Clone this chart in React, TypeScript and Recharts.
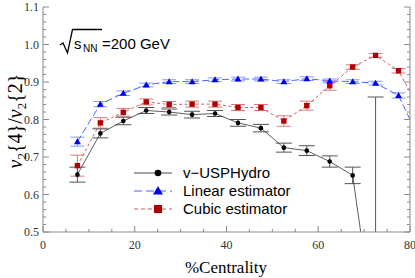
import React from "react";
import { ComposedChart, Line, XAxis, YAxis, ErrorBar } from "recharts";

// centrality bin centres (%)
const centrality = [7.5, 12.5, 17.5, 22.5, 27.5, 32.5, 37.5, 42.5, 47.5, 52.5, 57.5, 62.5, 67.5, 72.5, 77.5, 82.5];

const hydro = [0.653, 0.763, 0.796, 0.824, 0.82, 0.813, 0.816, 0.791, 0.777, 0.725, 0.717, 0.688, 0.651, 0.22];
const hydroErr = [0.02, 0.012, 0.01, 0.008, 0.008, 0.009, 0.008, 0.009, 0.01, 0.012, 0.013, 0.015, 0.022, 0.64];

const linear = [0.741, 0.841, 0.87, 0.892, 0.901, 0.901, 0.906, 0.908, 0.908, 0.901, 0.909, 0.903, 0.901, 0.897, 0.864, 0.736];
const linearErr = [0.012, 0.007, 0.006, 0.005, 0.005, 0.005, 0.005, 0.005, 0.005, 0.005, 0.005, 0.005, 0.005, 0.005, 0.007, 0.007];

const cubic = [0.677, 0.791, 0.819, 0.847, 0.84, 0.841, 0.841, 0.832, 0.832, 0.796, 0.837, 0.89, 0.94, 0.971, 0.93, 0.818];
const cubicErr = [0.028, 0.014, 0.01, 0.008, 0.008, 0.008, 0.008, 0.008, 0.008, 0.014, 0.012, 0.012, 0.006, 0.005, 0.006, 0.006];

const xMajor = [0, 20, 40, 60, 80];
const yMajor = [0.5, 0.6, 0.7, 0.8, 0.9, 1.0, 1.1];

const xTicks: number[] = [];
for (let v = 0; v <= 80; v += 5) xTicks.push(v);
const yTicks: number[] = [];
for (let i = 0; i <= 30; i++) yTicks.push(Math.round((0.5 + i * 0.02) * 100) / 100);

const isMajorY = (v: number) => yMajor.some((m) => Math.abs(m - v) < 1e-6);

const hydroData = hydro.map((v, i) => ({ c: centrality[i], v, e: hydroErr[i] }));
const linearData = linear.map((v, i) => ({ c: centrality[i], v, e: linearErr[i] }));
const cubicData = cubic.map((v, i) => ({ c: centrality[i], v, e: cubicErr[i] }));

const AXIS = "#8a8a8a";
const SERIF = "'Liberation Serif', 'Times New Roman', Times, 'DejaVu Serif', serif";
const SANS = "'Liberation Sans', Arial, Helvetica, sans-serif";
const tickStyle = { fontFamily: SERIF, fontSize: 12 };

function BottomTick(p: any) {
    const major = xMajor.includes(p.payload.value);
    return (
        <g>
            <line x1={p.x} x2={p.x} y1={p.y} y2={p.y - (major ? 6 : 3)} stroke={AXIS} />
            {major && <text x={p.x} y={p.y + 17} textAnchor="middle" fill="#333" style={tickStyle}>{p.payload.value}</text>}
        </g>
    );
}

function TopTick(p: any) {
    const major = xMajor.includes(p.payload.value);
    return <line x1={p.x} x2={p.x} y1={p.y} y2={p.y + (major ? 6 : 3)} stroke={AXIS} />;
}

function LeftTick(p: any) {
    const major = isMajorY(p.payload.value);
    return (
        <g>
            <line x1={p.x} x2={p.x + (major ? 6 : 3)} y1={p.y} y2={p.y} stroke={AXIS} />
            {major && <text x={p.x - 4} y={p.y + 4} textAnchor="end" fill="#333" style={tickStyle}>{p.payload.value.toFixed(1)}</text>}
        </g>
    );
}

function RightTick(p: any) {
    const major = isMajorY(p.payload.value);
    return <line x1={p.x} x2={p.x - (major ? 6 : 3)} y1={p.y} y2={p.y} stroke={AXIS} />;
}

function Circle(p: any) {
    if (p.cx == null || p.cy == null) return <g key={p.key} />;
    return <circle key={p.key} cx={p.cx} cy={p.cy} r={2.3} fill="#000" />;
}
function Triangle(p: any) {
    if (p.cx == null || p.cy == null) return <g key={p.key} />;
    const { cx, cy } = p;
    return <path key={p.key} d={`M${cx},${cy - 3.5} L${cx + 3.5},${cy + 2.6} L${cx - 3.5},${cy + 2.6} Z`} fill="#0000ee" />;
}
function Square(p: any) {
    if (p.cx == null || p.cy == null) return <g key={p.key} />;
    return <rect key={p.key} x={p.cx - 2.7} y={p.cy - 2.7} width={5.4} height={5.4} fill="#b00000" />;
}

const legendItems = [
    { name: "v\u2212USPHydro", color: "#333", dash: undefined, marker: "circle" },
    { name: "Linear estimator", color: "#3355ff", dash: "8 4", marker: "triangle" },
    { name: "Cubic estimator", color: "#d04a4a", dash: "4 3", marker: "square" },
];

function LegendBox() {
    return (
        <div style={{ position: "absolute", left: 134, top: 164, fontFamily: SANS, fontSize: 15, lineHeight: "18px" }}>
            {legendItems.map((it) => (
                <div key={it.name} style={{ display: "flex", alignItems: "center", height: 18 }}>
                    <svg width={49} height={18}>
                        <line x1={0} x2={38} y1={9} y2={9} stroke={it.color} strokeWidth={0.9} strokeDasharray={it.dash} />
                        {it.marker === "circle" && <circle cx={24} cy={9} r={3.3} fill="#000" />}
                        {it.marker === "triangle" && <path d="M24,4 L29,12.5 L19,12.5 Z" fill="#0000ee" />}
                        {it.marker === "square" && <rect x={20} y={5} width={8} height={8} fill="#b00000" />}
                    </svg>
                    <span style={{ color: "#000" }}>{it.name}</span>
                </div>
            ))}
        </div>
    );
}

export default function App() {
    return (
        <div style={{ position: "absolute", left: 0, top: 0, width: 415, height: 278, background: "#fff" }}>
            <svg width={0} height={0} style={{ position: "absolute" }}>
                <defs>
                    <clipPath id="plotClip" clipPathUnits="userSpaceOnUse">
                        <rect x={43} y={7} width={367} height={225} />
                    </clipPath>
                </defs>
            </svg>
            <ComposedChart width={415} height={278} margin={{ top: 7, right: 0, bottom: 0, left: 0 }}>
                <XAxis
                    xAxisId="b"
                    type="number"
                    dataKey="c"
                    domain={[0, 80]}
                    allowDataOverflow
                    ticks={xTicks}
                    interval={0}
                    height={46}
                    tickSize={0}
                    tickMargin={0}
                    tickLine={false}
                    axisLine={{ stroke: AXIS }}
                    tick={<BottomTick />}
                />
                <XAxis
                    xAxisId="t"
                    orientation="top"
                    type="number"
                    dataKey="c"
                    domain={[0, 80]}
                    allowDataOverflow
                    ticks={xTicks}
                    interval={0}
                    height={0}
                    tickSize={0}
                    tickMargin={0}
                    tickLine={false}
                    axisLine={{ stroke: AXIS }}
                    tick={<TopTick />}
                />
                <YAxis
                    yAxisId="l"
                    type="number"
                    domain={[0.5, 1.1]}
                    allowDataOverflow
                    ticks={yTicks}
                    interval={0}
                    width={43}
                    tickSize={0}
                    tickMargin={0}
                    tickLine={false}
                    axisLine={{ stroke: AXIS }}
                    tick={<LeftTick />}
                />
                <YAxis
                    yAxisId="r"
                    orientation="right"
                    type="number"
                    domain={[0.5, 1.1]}
                    allowDataOverflow
                    ticks={yTicks}
                    interval={0}
                    width={5}
                    tickSize={0}
                    tickMargin={0}
                    tickLine={false}
                    axisLine={{ stroke: AXIS }}
                    tick={<RightTick />}
                />
                <Line xAxisId="b" yAxisId="l" data={linearData} dataKey="v" type="linear" stroke="#3355ff" strokeWidth={0.9}
                    strokeDasharray="7 3" dot={<Triangle />} isAnimationActive={false}>
                    <ErrorBar dataKey="e" width={7} stroke="#8899ff" strokeWidth={1} />
                </Line>
                <Line xAxisId="b" yAxisId="l" data={cubicData} dataKey="v" type="linear" stroke="#d04a4a" strokeWidth={0.9}
                    strokeDasharray="3 2.5" dot={<Square />} isAnimationActive={false}>
                    <ErrorBar dataKey="e" width={7} stroke="#e07a7a" strokeWidth={1} />
                </Line>
                <Line xAxisId="b" yAxisId="l" data={hydroData} dataKey="v" type="linear" stroke="#333" strokeWidth={0.8}
                    dot={<Circle />} isAnimationActive={false}>
                    <ErrorBar dataKey="e" width={8} stroke="#555" strokeWidth={1} clipPath="url(#plotClip)" />
                </Line>
            </ComposedChart>
            <svg width={415} height={278} style={{ position: "absolute", left: 0, top: 0, pointerEvents: "none" }}>
                <text transform="translate(22,121) rotate(-90)" textAnchor="middle" style={{ fontFamily: SERIF, fontSize: 20 }}>
                    <tspan fontStyle="italic">v</tspan>
                    <tspan fontSize={13} dy={4}>2</tspan>
                    <tspan dy={-4}>{"{4}/"}</tspan>
                    <tspan fontStyle="italic">v</tspan>
                    <tspan fontSize={13} dy={4}>2</tspan>
                    <tspan dy={-4}>{"{2}"}</tspan>
                </text>
                <text x={226} y={273} textAnchor="middle" style={{ fontFamily: SERIF, fontSize: 17 }}>%Centrality</text>
                <path d="M60,45 L63,43 L67.5,53 L72.5,29.5 L102,29.5" stroke="#000" strokeWidth={1.3} fill="none" />
                <text x={74} y={49} style={{ fontFamily: SANS, fontSize: 15 }}>s</text>
                <text x={83} y={52} style={{ fontFamily: SANS, fontSize: 10 }}>NN</text>
                <text x={102} y={49} style={{ fontFamily: SANS, fontSize: 15 }}>=200 GeV</text>
            </svg>
            <LegendBox />
        </div>
    );
}
